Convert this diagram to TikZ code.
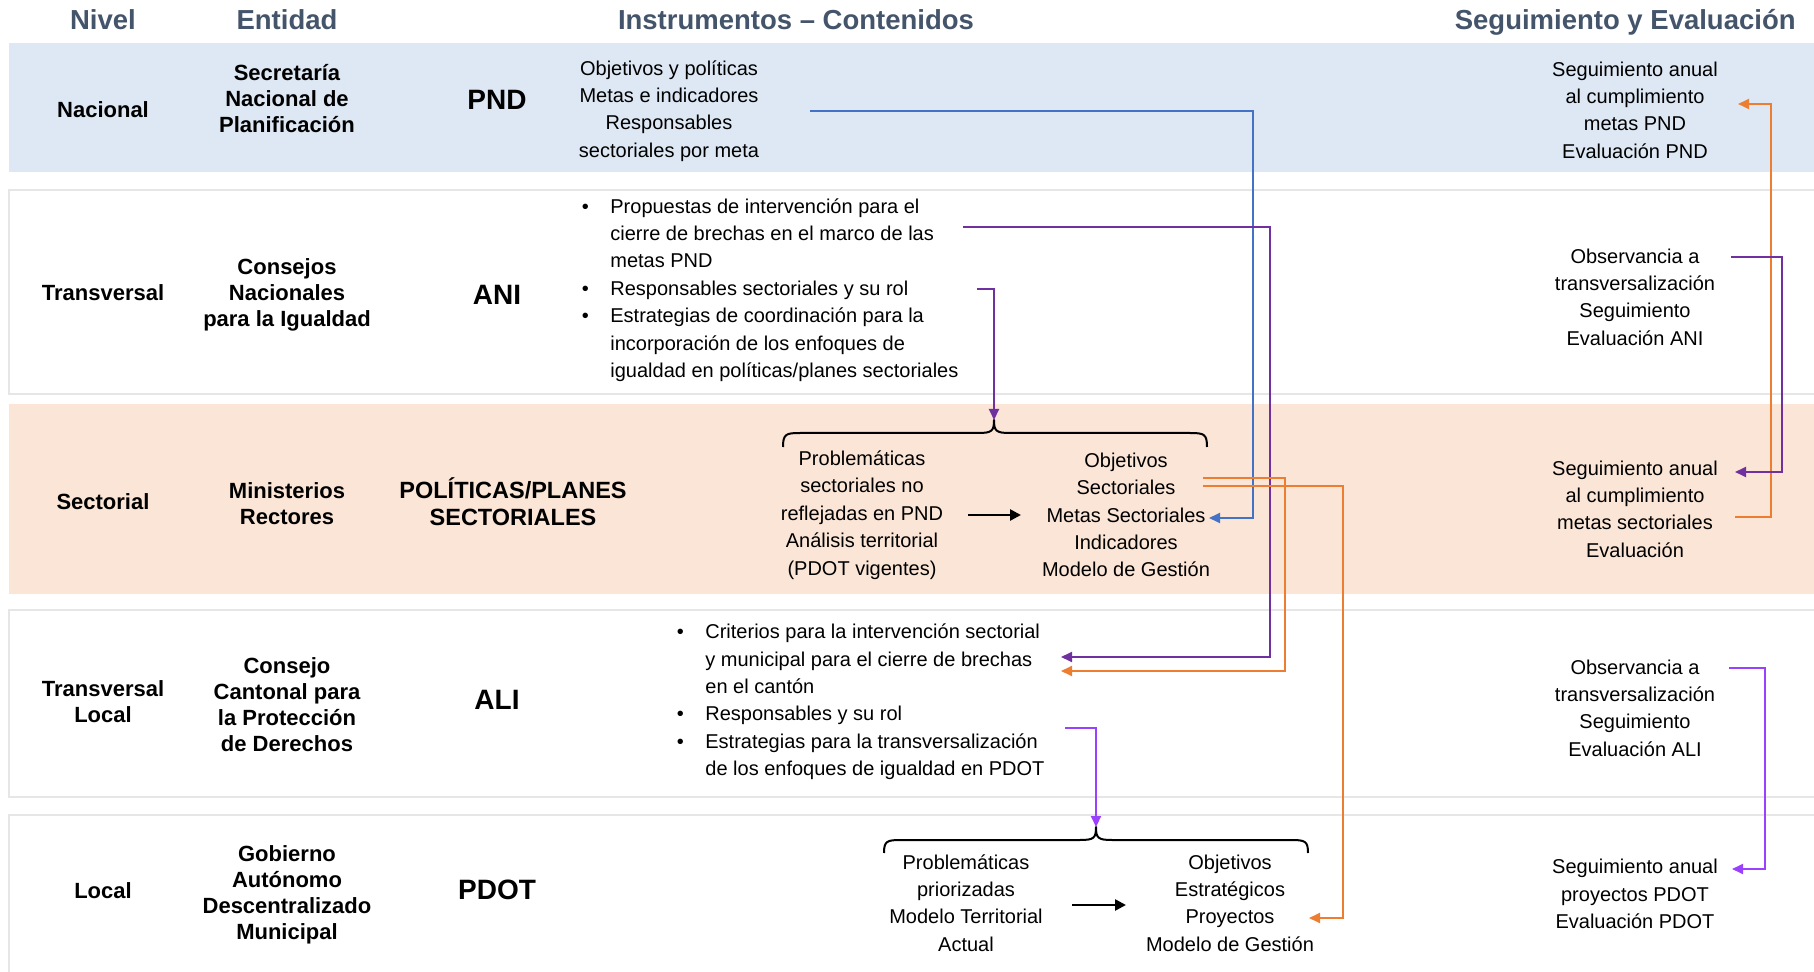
\documentclass[tikz,border=0pt]{standalone}
\usepackage{fontspec}
\setmainfont{Liberation Sans}
\usetikzlibrary{arrows.meta}

\definecolor{hdrcol}{HTML}{44546A}
\definecolor{bandblue}{HTML}{DEE8F4}
\definecolor{bandpeach}{HTML}{FBE5D6}
\definecolor{bandline}{HTML}{E6E6E6}
\definecolor{lineblue}{HTML}{4472C4}
\definecolor{lineplum}{HTML}{7030A0}
\definecolor{linelila}{HTML}{9A40FF}
\definecolor{lineorange}{HTML}{ED7D31}

\newcommand{\bitem}{\makebox[14.25pt][l]{•}}
\newcommand{\bindent}{\hspace*{14.25pt}}

\tikzset{
  hdr/.style={font=\fontsize{13.75pt}{16pt}\selectfont\bfseries, text=hdrcol, inner sep=0pt, anchor=base},
  lbl/.style={font=\fontsize{11pt}{13pt}\selectfont\bfseries, align=center, inner sep=0pt},
  instr/.style={font=\fontsize{14pt}{17pt}\selectfont\bfseries, align=center, inner sep=0pt},
  body/.style={font=\fontsize{10pt}{13.7pt}\selectfont, align=center, inner sep=0pt},
  bullist/.style={font=\fontsize{10pt}{13.7pt}\selectfont, align=left, inner sep=0pt, anchor=west},
  link/.style={line width=1pt, -{Triangle[length=5.5pt,width=5pt]}},
  flow/.style={line width=1.25pt, -{Triangle[length=5.5pt,width=5.5pt]}},
  brace/.style={line width=1pt, line join=round},
}

\begin{document}
\begin{tikzpicture}[x=0.5pt, y=-0.5pt]
  \useasboundingbox (0,0) rectangle (1814,972);

  % bands
  \fill[bandblue] (9,43) rectangle (1830,172);
  \draw[bandline, line width=1pt] (9,190) rectangle (1830,394);
  \fill[bandpeach] (9,404) rectangle (1830,594);
  \draw[bandline, line width=1pt] (9,610) rectangle (1830,797);
  \draw[bandline, line width=1pt] (9,815) rectangle (1830,995);

  % headers
  \node[hdr] (hnivel) at (103,30) {Nivel};
  \node[hdr] (hentidad) at (287,30) {Entidad};
  \node[hdr] (hinstr) at (796,30) {Instrumentos – Contenidos};
  \node[hdr, anchor=base east] (hseg) at (1796,30) {Seguimiento y Evaluación};

  % nivel
  \node[lbl] (nnac) at (103,110) {Nacional};
  \node[lbl] (ntrans) at (103,293) {Transversal};
  \node[lbl] (nsect) at (103,502) {Sectorial};
  \node[lbl] (ntransloc) at (103,702) {Transversal\\Local};
  \node[lbl] (nloc) at (103,891) {Local};

  % entidad
  \node[lbl] (esnp) at (287,99) {Secretaría\\Nacional de\\Planificación};
  \node[lbl] (ecni) at (287,295) {Consejos\\Nacionales\\para la Igualdad};
  \node[lbl] (emin) at (287,504) {Ministerios\\Rectores};
  \node[lbl] (eccpd) at (287,705) {Consejo\\Cantonal para\\la Protección\\de Derechos};
  \node[lbl] (egad) at (287,895) {Gobierno\\Autónomo\\Descentralizado\\Municipal};

  % instrumentos
  \node[instr] (ipnd) at (497,100) {PND};
  \node[instr] (iani) at (497,295) {ANI};
  \node[instr, font=\fontsize{11.75pt}{13.5pt}\selectfont\bfseries] (ipol) at (513,502) {POLÍTICAS/PLANES\\SECTORIALES};
  \node[instr] (iali) at (497,700) {ALI};
  \node[instr] (ipdot) at (497,890) {PDOT};

  % contenidos
  \node[body] (cpnd) at (669,111) {Objetivos y políticas\\Metas e indicadores\\Responsables\\sectoriales por meta};
  \node[bullist] (cani) at (581.5,290) {\bitem Propuestas de intervención para el\\
    \bindent cierre de brechas en el marco de las\\
    \bindent metas PND\\
    \bitem Responsables sectoriales y su rol\\
    \bitem Estrategias de coordinación para la\\
    \bindent incorporación de los enfoques de\\
    \bindent igualdad en políticas/planes sectoriales};
  \node[body] (cprobsec) at (862,515) {Problemáticas\\sectoriales no\\reflejadas en PND\\Análisis territorial\\(PDOT vigentes)};
  \node[body] (cobjsec) at (1126,515) {Objetivos\\Sectoriales\\Metas Sectoriales\\Indicadores\\Modelo de Gestión};
  \node[bullist] (cali) at (676.5,702) {\bitem Criterios para la intervención sectorial\\
    \bindent y municipal para el cierre de brechas\\
    \bindent en el cantón\\
    \bitem Responsables y su rol\\
    \bitem Estrategias para la transversalización\\
    \bindent de los enfoques de igualdad en PDOT};
  \node[body] (cprobpdot) at (966,903) {Problemáticas\\priorizadas\\Modelo Territorial\\Actual};
  \node[body] (cobjpdot) at (1230,903) {Objetivos\\Estratégicos\\Proyectos\\Modelo de Gestión};

  % seguimiento
  \node[body] (spnd) at (1635,110) {Seguimiento anual\\al cumplimiento\\metas PND\\Evaluación PND};
  \node[body] (sani) at (1635,297) {Observancia a\\transversalización\\Seguimiento\\Evaluación ANI};
  \node[body] (ssect) at (1635,509) {Seguimiento anual\\al cumplimiento\\metas sectoriales\\Evaluación};
  \node[body] (sali) at (1635,708) {Observancia a\\transversalización\\Seguimiento\\Evaluación ALI};
  \node[body] (spdot) at (1635,894) {Seguimiento anual\\proyectos PDOT\\Evaluación PDOT};

  % braces
  \draw[brace] (783,447) .. controls (783,434) and (786,433) .. (800,433) -- (978,433)
    .. controls (992,433) and (994,431) .. (994,420) .. controls (994,431) and (996,433) .. (1010,433)
    -- (1190,433) .. controls (1204,433) and (1207,434) .. (1207,447);
  \draw[brace] (884,853) .. controls (884,841) and (887,840) .. (901,840) -- (1080,840)
    .. controls (1094,840) and (1096,838) .. (1096,827) .. controls (1096,838) and (1098,840) .. (1112,840)
    -- (1291,840) .. controls (1305,840) and (1308,841) .. (1308,853);

  % end points
  \coordinate (pndout) at (810,111);
  \coordinate (metasin) at (1209,518);
  \coordinate (aniout1) at (963,227);
  \coordinate (aniout2) at (977,289);
  \coordinate (bracesec) at (994,420);
  \coordinate (aliin1) at (1061,657);
  \coordinate (aliin2) at (1061,671);
  \coordinate (secout1) at (1203,478);
  \coordinate (secout2) at (1203,486);
  \coordinate (proyin) at (1309,918);
  \coordinate (aliout) at (1065,728);
  \coordinate (bracepdot) at (1096,827);
  \coordinate (sprobout) at (968,515);
  \coordinate (sobjin) at (1021,515);
  \coordinate (pprobout) at (1072,905);
  \coordinate (pobjin) at (1126,905);
  \coordinate (spndin) at (1738,104);
  \coordinate (ssectout) at (1735,517);
  \coordinate (saniout) at (1731,257);
  \coordinate (ssectin) at (1735,472);
  \coordinate (saliout) at (1729,668);
  \coordinate (spdotin) at (1732,869);

  % connectors
  \draw[link, lineblue] (pndout) -| (1253,518) -- (metasin);
  \draw[link, lineplum] (aniout1) -| (1270,657) -- (aliin1);
  \draw[link, lineplum] (aniout2) -| (bracesec);
  \draw[link, lineorange] (secout1) -| (1285,671) -- (aliin2);
  \draw[link, lineorange] (secout2) -| (1343,918) -- (proyin);
  \draw[link, linelila] (aliout) -| (bracepdot);
  \draw[flow] (sprobout) -- (sobjin);
  \draw[flow] (pprobout) -- (pobjin);
  \draw[link, lineorange] (ssectout) -| (1771,104) -- (spndin);
  \draw[link, lineplum] (saniout) -| (1782,472) -- (ssectin);
  \draw[link, linelila] (saliout) -| (1765,869) -- (spdotin);
\end{tikzpicture}
\end{document}
